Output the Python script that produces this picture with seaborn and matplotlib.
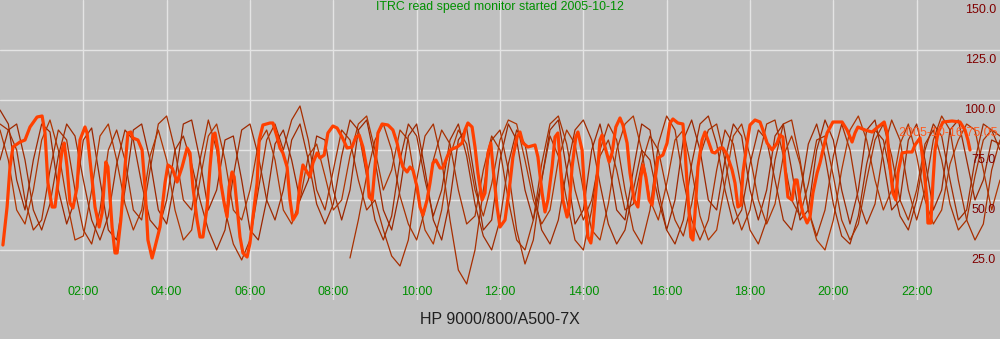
import numpy as np
import pandas as pd
import matplotlib
matplotlib.use("Agg")
import matplotlib.pyplot as plt
import seaborn as sns

# ---------------- data ----------------
title_text = "ITRC read speed monitor started 2005-10-12"
host_label = "HP 9000/800/A500-7X"
current_label = "2005-10-16 75.05"
x_tick_hours = [2, 4, 6, 8, 10, 12, 14, 16, 18, 20, 22]
x_tick_labels = ["02:00", "04:00", "06:00", "08:00", "10:00", "12:00",
                 "14:00", "16:00", "18:00", "20:00", "22:00"]
y_tick_values = [150, 125, 100, 75, 50, 25]
y_tick_labels = ["150.0", "125.0", "100.0", "75.0", "50.0", "25.0"]

# current day (thick line): hour of day, MB/s
cur_hours = [0.07, 0.17, 0.24, 0.31, 0.48, 0.60, 0.72, 0.89, 1.01, 1.08, 1.15, 1.25, 1.32, 1.39, 1.49, 1.54,
             1.61, 1.68, 1.75, 1.85, 1.92, 2.04, 2.09, 2.16, 2.28, 2.38, 2.45, 2.54, 2.59, 2.69, 2.76, 2.81,
             2.90, 3.00, 3.07, 3.14, 3.19, 3.31, 3.41, 3.48, 3.55, 3.65, 3.72, 3.84, 3.96, 4.03, 4.13, 4.25,
             4.37, 4.49, 4.56, 4.63, 4.73, 4.80, 4.87, 4.97, 5.04, 5.11, 5.16, 5.23, 5.30, 5.38, 5.45, 5.50,
             5.57, 5.62, 5.69, 5.76, 5.83, 5.93, 6.00, 6.07, 6.17, 6.22, 6.31, 6.48, 6.55, 6.65, 6.72, 6.79,
             6.89, 6.96, 7.03, 7.13, 7.20, 7.27, 7.37, 7.44, 7.51, 7.61, 7.68, 7.78, 7.87, 7.99, 8.09, 8.21,
             8.33, 8.45, 8.54, 8.62, 8.71, 8.81, 8.86, 8.93, 9.00, 9.07, 9.17, 9.31, 9.43, 9.53, 9.60, 9.67,
             9.77, 9.84, 9.91, 10.01, 10.08, 10.15, 10.25, 10.32, 10.39, 10.46, 10.56, 10.63, 10.73, 10.80,
             10.97, 11.09, 11.16, 11.23, 11.33, 11.40, 11.47, 11.57, 11.64, 11.71, 11.78, 11.83, 11.93, 12.00,
             12.12, 12.24, 12.31, 12.41, 12.48, 12.55, 12.67, 12.84, 12.91, 13.01, 13.08, 13.15, 13.25, 13.32,
             13.39, 13.44, 13.51, 13.61, 13.66, 13.73, 13.82, 13.87, 13.97, 14.04, 14.11, 14.18, 14.23, 14.33,
             14.40, 14.45, 14.52, 14.62, 14.69, 14.78, 14.88, 14.95, 15.05, 15.12, 15.22, 15.31, 15.38, 15.43,
             15.50, 15.58, 15.65, 15.72, 15.79, 15.91, 16.01, 16.08, 16.15, 16.27, 16.39, 16.44, 16.51, 16.58,
             16.63, 16.68, 16.75, 16.85, 16.92, 16.99, 17.09, 17.16, 17.28, 17.35, 17.45, 17.57, 17.64, 17.71,
             17.78, 17.83, 17.93, 18.00, 18.12, 18.24, 18.31, 18.41, 18.53, 18.65, 18.72, 18.79, 18.84, 18.91,
             19.01, 19.08, 19.13, 19.20, 19.27, 19.37, 19.44, 19.51, 19.61, 19.68, 19.75, 19.85, 19.99, 20.21,
             20.33, 20.45, 20.52, 20.59, 20.76, 20.93, 21.07, 21.22, 21.29, 21.36, 21.43, 21.50, 21.55, 21.65,
             21.77, 21.89, 21.96, 22.08, 22.15, 22.25, 22.27, 22.34, 22.39, 22.44, 22.51, 22.63, 22.85, 23.04,
             23.16, 23.23, 23.28]
cur_speed = [27.5, 46.5, 66.5, 76.5, 79, 80, 86.5, 91.5, 92, 83.5, 58.5, 46.5, 46.5, 58.5, 75, 78.5,
             66.5, 48.5, 46, 56.5, 80, 86.5, 83.5, 70, 46.5, 36.5, 43.5, 69, 66.5, 36.5, 23.5, 23.5,
             40, 66.5, 83.5, 84, 81, 80, 75, 56.5, 30, 21, 26.5, 36.5, 58.5, 67.5, 66, 59,
             66.5, 76, 73.5, 56.5, 40, 31.5, 31.5, 46.5, 66.5, 82.5, 83.5, 75, 58.5, 48.5, 41.5, 56.5,
             64, 61.5, 46.5, 31.5, 23.5, 21.5, 28.5, 41.5, 58.5, 80, 87.5, 88.5, 88.5, 81.5, 76, 73.5,
             66.5, 50, 40, 43.5, 58.5, 67.5, 64, 61.5, 68.5, 73.5, 71, 72.5, 83.5, 87, 86, 81.5,
             76, 76.5, 81.5, 82.5, 76.5, 65, 51.5, 50, 66.5, 83.5, 88, 87.5, 85, 78.5, 71.5, 66.5,
             64, 66.5, 65, 56.5, 46.5, 42.5, 50, 58.5, 68.5, 70, 66, 66, 71.5, 75,
             76.5, 78.5, 85, 88.5, 86.5, 76.5, 63.5, 50, 53.5, 73.5, 78.5, 66.5, 46.5, 36.5,
             40, 58.5, 71.5, 81.5, 84, 78.5, 76.5, 77.5, 71.5, 53.5, 44, 50, 66.5, 81.5,
             83.5, 70, 50, 41.5, 46.5, 66.5, 81.5, 84, 75, 50, 31.5, 28.5, 36.5, 61.5,
             80, 82.5, 76.5, 69, 73.5, 86.5, 91, 87.5, 78.5, 63.5, 50, 46.5, 61.5, 67.5,
             61.5, 50, 47.5, 60, 71, 72.5, 78.5, 88.5, 90.5, 88.5, 88, 75, 51.5, 31.5,
             30, 43.5, 66.5, 80, 84, 80, 74, 73.5, 76, 76, 72.5, 65, 58.5, 46.5,
             47.5, 63.5, 78.5, 87.5, 90, 89, 85, 78.5, 75, 78.5, 82.5, 81.5, 66.5, 51.5,
             50, 60, 60, 50, 43.5, 38.5, 41.5, 53.5, 63.5, 68.5, 75, 83.5, 89, 89,
             85, 79, 83.5, 86.5, 85, 84, 86.5, 89, 83.5, 66.5, 53.5, 50, 63.5, 73.5,
             74, 74, 77.5, 81, 70, 50, 38.5, 38.5, 58.5, 75, 83.5, 89, 89.5, 89,
             85, 80, 75]

# previous days (thin lines), sampled every 0.2 h
prev_hours = np.round(np.arange(0, 24.001, 0.2), 1)
day_a = [95, 88, 60, 45, 70, 88, 84, 55, 38, 50, 80, 86, 60, 35, 30, 55, 85, 88, 70, 45, 38,
         60, 88, 90, 70, 45, 55, 80, 82, 60, 35, 30, 50, 78, 85, 70, 50, 60, 82, 80, 55,
         40, 55, 85, 90, 70, 45, 35, 55, 82, 88, 65, 40, 30, 50, 80, 86, 60, 35, 40, 70,
         88, 80, 55, 40, 60, 85, 90, 65, 38, 45, 75, 88, 70, 45, 40, 65, 88, 85, 55, 35,
         50, 80, 90, 75, 50, 45, 70, 88, 82, 55, 40, 55, 82, 88, 65, 40, 45, 75, 90, 80,
         55, 38, 55, 85, 90, 70, 45, 50, 80, 88, 70, 45, 55, 85, 90, 70, 50, 60, 80, 78]
day_b = [88, 85, 75, 50, 35, 40, 65, 85, 80, 55, 35, 28, 45, 75, 85, 70, 45, 40, 65, 88, 92,
         75, 50, 45, 70, 90, 75, 45, 28, 20, 30, 55, 80, 88, 75, 90, 97, 80, 55, 45, 65,
         85, 80, 60, 45, 50, 35, 22, 17, 30, 60, 82, 88, 70, 40, 15, 8, 25, 55, 80, 85,
         65, 35, 18, 30, 60, 82, 72, 50, 30, 25, 45, 75, 88, 80, 55, 35, 28, 45, 78, 92,
         85, 60, 40, 30, 40, 65, 85, 78, 55, 35, 28, 40, 70, 88, 90, 70, 45, 32, 45, 72,
         88, 75, 50, 38, 48, 75, 90, 80, 55, 40, 55, 80, 92, 85, 60, 40, 30, 38, 65, 80]
day_c = [85, 70, 45, 38, 55, 80, 90, 75, 50, 30, 32, 55, 82, 88, 70, 48, 35, 45, 72, 85, 70,
         45, 30, 35, 60, 82, 88, 70, 45, 40, 55, 78, 85, 70, 45, 38, 50, 72, 78, 62, 45,
         50, 72, 88, 92, 75, 55, 65, 85, 80, 55, 35, 28, 45, 72, 85, 78, 55, 42, 58, 80,
         90, 88, 70, 50, 38, 45, 70, 85, 78, 55, 35, 30, 48, 75, 88, 92, 75, 50, 40, 58,
         80, 85, 65, 42, 30, 35, 58, 82, 88, 72, 50, 38, 48, 72, 82, 68, 45, 30, 25, 40,
         65, 85, 92, 80, 60, 45, 55, 78, 88, 72, 50, 38, 45, 68, 80, 88, 85, 65, 45, 60]
day_d = [70, 85, 88, 70, 45, 35, 48, 72, 88, 82, 60, 40, 30, 42, 68, 85, 80, 58, 40, 35, 50,
         75, 82, 68, 50, 35, 25, 35, 62, 85, 88, 72, 50, 40, 55, 80, 88, 70, 48, 38, 48,
         72, 90, 85, 62, 40, 30, 42, 70, 88, 82, 60, 42, 55, 80, 88, 72, 48, 32, 25, 40,
         68, 85, 78, 55, 35, 28, 40, 65, 85, 90, 80, 58, 38, 28, 35, 55, 75, 70, 50, 35,
         28, 40, 68, 88, 92, 78, 55, 38, 45, 68, 85, 80, 60, 40, 35, 52, 78, 88, 72, 48,
         32, 28, 42, 68, 85, 80, 60, 42, 35, 50, 75, 88, 82, 60, 40, 45, 70, 88, 85, 75]
day_e = [None] * 42 + [
         21, 40, 62, 80, 88, 75, 52, 38, 30, 45, 70, 85, 78, 55, 38, 42, 65, 82, 75, 50,
         30, 25, 40, 68, 88, 92, 78, 55, 40, 50, 72, 80, 65, 45, 48, 68, 82, 75, 55, 40,
         32, 48, 72, 85, 88, 70, 48, 35, 45, 70, 88, 90, 72, 50, 42, 58, 80, 82, 62, 40,
         30, 38, 60, 80, 88, 72, 50, 40, 55, 78, 85, 70, 48, 35, 40, 62, 80, 85, 82]

# ---------------- styling ----------------
sns.set_theme(style="white")
plt.rcParams["font.family"] = ["Liberation Sans", "DejaVu Sans"]

BG = "#c0c0c0"
GRID = "#e4e4e4"
THICK = "#ff4000"
GREEN = "#009000"
DARKRED = "#800000"

fig = plt.figure(figsize=(10, 3.39), dpi=100, facecolor=BG)
ax = fig.add_axes([0, 39 / 339, 1, 300 / 339])
ax.set_facecolor(BG)

# grid
for h in x_tick_hours:
    ax.axvline(h, color=GRID, lw=1.0, zorder=0)
for v in y_tick_values[1:]:
    ax.axhline(v, color=GRID, lw=1.0, zorder=0)

# thin lines (previous days)
prev = pd.DataFrame({
    "hour": np.concatenate([prev_hours] * 5),
    "speed": pd.to_numeric(pd.Series(day_a + day_b + day_c + day_d + day_e), errors="coerce"),
    "day": (["a"] * len(prev_hours) + ["b"] * len(prev_hours) + ["c"] * len(prev_hours)
            + ["d"] * len(prev_hours) + ["e"] * len(prev_hours)),
})
prev = prev.dropna()
sns.lineplot(data=prev, x="hour", y="speed", hue="day", estimator=None, sort=False,
             palette={"a": "#9c2600", "b": "#a82e00", "c": "#b03400", "d": "#a02a00", "e": "#a83000"},
             lw=0.9, legend=False, ax=ax, zorder=2)

# thick line (current day)
cur = pd.DataFrame({"hour": cur_hours, "speed": cur_speed})
sns.lineplot(data=cur, x="hour", y="speed", estimator=None, sort=False,
             color=THICK, lw=2.3, legend=False, ax=ax, zorder=3)

ax.set_xlim(0, 24)
ax.set_ylim(0, 150)
ax.set_xticks([])
ax.set_yticks([])
ax.set_xlabel("")
ax.set_ylabel("")
for s in ax.spines.values():
    s.set_visible(False)

# y labels (right, inside)
for v, lab in zip(y_tick_values, y_tick_labels):
    ax.text(23.9, v - 5, lab, color=DARKRED, fontsize=9, ha="right", va="center", zorder=5)

# x labels (inside bottom)
for h, lab in zip(x_tick_hours, x_tick_labels):
    ax.text(h, 4, lab, color=GREEN, fontsize=9, ha="center", va="center", zorder=5)

# current value label
ax.text(23.93, 83.5, current_label, color="#ff5a20", fontsize=9, ha="right", va="center", zorder=4)

fig.text(0.5, 1 - 7 / 339, title_text, color=GREEN, fontsize=8.9, ha="center", va="center")
fig.text(0.5, 1 - 319 / 339, host_label, color="#202020", fontsize=11.5, ha="center", va="center")

fig.savefig("out.png", dpi=100, facecolor=BG)
